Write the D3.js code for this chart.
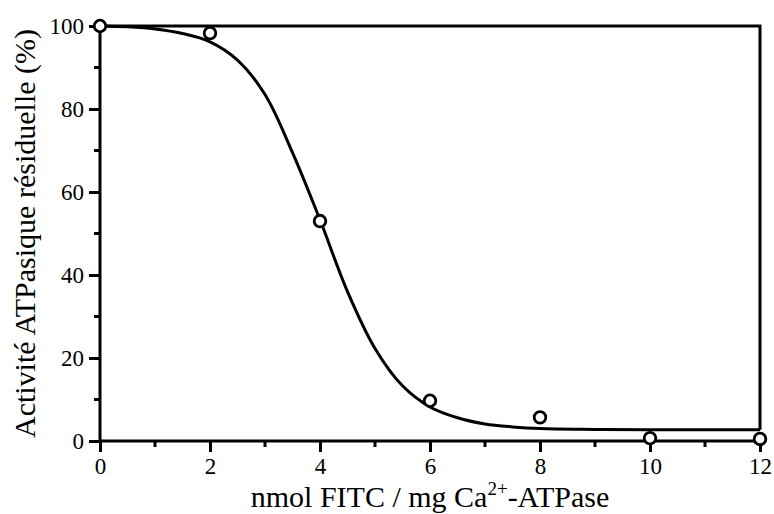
<!DOCTYPE html>
<html>
<head>
<meta charset="utf-8">
<script src="https://cdn.jsdelivr.net/npm/d3@7"></script>
<style>
  body { margin: 0; background: #fff; }
</style>
</head>
<body>
<div id="chart"></div>
<script>
// measured points (nmol FITC / mg, % residual activity)
var doseX = [0, 2, 4, 6, 8, 10, 12];
var activity = [100, 98.3, 53, 9.7, 5.7, 0.7, 0.5];

// fitted curve
var fitX = [0, 0.5, 1, 1.5, 2, 2.5, 3, 3.5, 4, 4.5, 5, 5.5, 6, 6.5, 7, 7.5, 8, 9, 10, 11, 12];
var fitY = [100, 99.8, 99.3, 98.2, 96.2, 91.8, 83.5, 69.5, 53.3, 36, 22.3, 13.3, 8.2, 5.6, 4.1, 3.4, 3.0, 2.8, 2.7, 2.7, 2.7];

var xMajor = [0, 2, 4, 6, 8, 10, 12];
var xMinor = [1, 3, 5, 7, 9, 11];
var yMajor = [0, 20, 40, 60, 80, 100];
var yMinor = [10, 30, 50, 70, 90];

var svgWidth = 774;
var svgHeight = 514;
var serif = "'Liberation Serif'";

var svg = d3.select("#chart").append("svg")
    .attr("width", svgWidth)
    .attr("height", svgHeight);

var x = d3.scaleLinear().domain([0, 12]).range([100, 760]);
var y = d3.scaleLinear().domain([0, 100]).range([441, 26]);

// frame: top and right edge (right one stops at the curve)
svg.append("path")
    .attr("d", "M" + x(0) + "," + y(100) + "H" + x(12) + "V" + y(fitY[fitY.length - 1]))
    .attr("fill", "none")
    .attr("stroke", "#000")
    .attr("stroke-width", 3);

// x axis
var xAxis = svg.append("g").attr("transform", "translate(0," + y(0) + ")");
xAxis.call(d3.axisBottom(x).tickValues(xMajor).tickSize(11).tickPadding(6).tickFormat(d3.format("d")));
xAxis.append("g").selectAll("line")
    .data(xMinor)
    .enter().append("line")
    .attr("x1", d => x(d)).attr("x2", d => x(d))
    .attr("y1", 0).attr("y2", 6);

// y axis
var yAxis = svg.append("g").attr("transform", "translate(" + x(0) + ",0)");
yAxis.call(d3.axisLeft(y).tickValues(yMajor).tickSize(11).tickPadding(5).tickFormat(d3.format("d")));
yAxis.append("g").selectAll("line")
    .data(yMinor)
    .enter().append("line")
    .attr("x1", 0).attr("x2", -6)
    .attr("y1", d => y(d)).attr("y2", d => y(d));

svg.selectAll(".domain").attr("stroke", "#000").attr("stroke-width", 3)
    .attr("d", function() {
        return this.parentNode === xAxis.node()
            ? "M" + x(0) + ",0H" + x(12)
            : "M0," + y(0) + "V" + y(100);
    });
svg.selectAll("line").attr("stroke", "#000").attr("stroke-width", 3);
svg.selectAll("g").attr("font-family", null).attr("font-size", null);
svg.selectAll(".tick text")
    .style("font-family", serif)
    .style("font-size", "23px")
    .attr("fill", "#000");

// fitted curve
var fit = fitX.map((d, i) => [d, fitY[i]]);
svg.append("path")
    .datum(fit)
    .attr("fill", "none")
    .attr("stroke", "#000")
    .attr("stroke-width", 3)
    .attr("d", d3.line().x(d => x(d[0])).y(d => y(d[1])).curve(d3.curveCatmullRom));

// data points
svg.selectAll("circle")
    .data(doseX)
    .enter().append("circle")
    .attr("cx", d => x(d))
    .attr("cy", (d, i) => y(activity[i]))
    .attr("r", 5.8)
    .attr("fill", "#fff")
    .attr("stroke", "#000")
    .attr("stroke-width", 2.8);

// axis titles
var xTitle = svg.append("text")
    .attr("x", (x(0) + x(12)) / 2)
    .attr("y", 507)
    .attr("text-anchor", "middle")
    .style("font-family", serif)
    .style("font-size", "30px");
xTitle.append("tspan").text("nmol FITC / mg Ca");
xTitle.append("tspan").attr("dy", -12).style("font-size", "19px").text("2+");
xTitle.append("tspan").attr("dy", 12).text("-ATPase");

svg.append("text")
    .attr("transform", "translate(35," + ((y(0) + y(100)) / 2) + ") rotate(-90)")
    .attr("text-anchor", "middle")
    .style("font-family", serif)
    .style("font-size", "30px")
    .text("Activité ATPasique résiduelle (%)");
</script>
</body>
</html>
